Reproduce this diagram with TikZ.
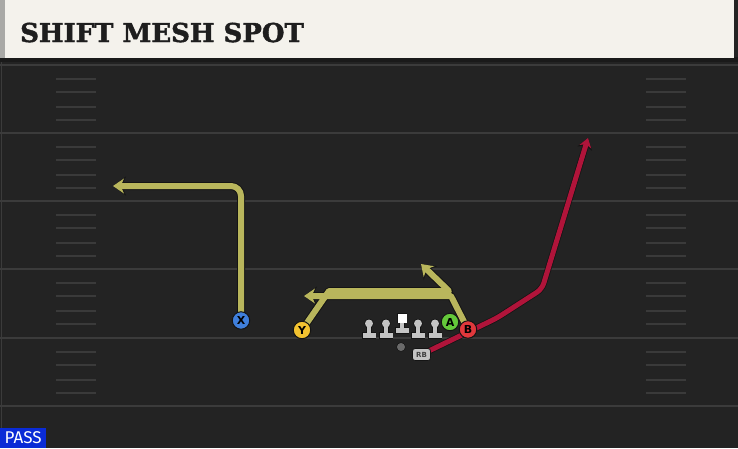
\documentclass[tikz,border=0pt]{standalone}
\usepackage{fontspec}
\setmainfont{DejaVu Sans}
\newfontfamily\titlefont[BoldFeatures={FakeBold=1.6}]{DejaVu Serif}
\newfontfamily\passfont{Fira Sans}
\usetikzlibrary{arrows.meta}
\definecolor{bg}{HTML}{232323}
\definecolor{fieldline}{HTML}{3B3B3B}
\definecolor{hashcol}{HTML}{3A3A3A}
\definecolor{cream}{HTML}{F4F2EC}
\definecolor{stripgrey}{HTML}{A9A9A6}
\definecolor{titledark}{HTML}{1A1A1A}
\definecolor{titletext}{HTML}{1E1E1E}
\definecolor{olive}{HTML}{B9B65C}
\definecolor{outl}{HTML}{141414}
\definecolor{routered}{HTML}{B0143A}
\definecolor{xblue}{HTML}{3F7FDB}
\definecolor{yyellow}{HTML}{F2C230}
\definecolor{agreen}{HTML}{64C83A}
\definecolor{bred}{HTML}{E0383C}
\definecolor{linegrey}{HTML}{C4C4C4}
\definecolor{qbgrey}{HTML}{6A6A6A}
\definecolor{passblue}{HTML}{0A2BD6}
\pgfdeclarelayer{field}
\pgfdeclarelayer{routes}
\pgfsetlayers{field,routes,main}
\tikzset{
  fieldln/.style={draw=fieldline, line width=2},
  hashln/.style={draw=hashcol, line width=1.5},
  player/.style={circle, draw=outl, line width=1, minimum size=17.5, inner sep=0,
    font=\bfseries\fontsize{11}{11}\selectfont, text=black},
  routeback/.style={draw=outl, line width=8, line join=round,
    -{Stealth[length=13pt,width=19pt,inset=4.5pt]}},
  routefront/.style={draw=olive, line width=6, line join=round,
    -{Stealth[length=11pt,width=15pt,inset=3.5pt]}},
  redback/.style={draw=outl, line width=6.5, line join=round,
    -{Stealth[length=11pt,width=15pt,inset=3pt]}},
  redfront/.style={draw=routered, line width=5, line join=round,
    -{Stealth[length=9pt,width=12pt,inset=2.5pt]}},
  rbbox/.style={draw=outl, fill=linegrey, rounded corners=2.5, line width=0.8,
    minimum width=18, minimum height=12, inner sep=0,
    font=\bfseries\fontsize{7}{7}\selectfont, text=black!75},
  lineman/.pic={
    \fill[outl] (-7.3,8.8) rectangle (7.3,15.3);
    \fill[outl] (-2.8,1) rectangle (2.8,10);
    \fill[outl] (0,0) circle (4.8);
    \fill[linegrey] (-6.5,9.5) rectangle (6.5,14.5);
    \fill[linegrey] (-2,1) rectangle (2,10);
    \fill[linegrey] (0,0) circle (4);
  },
  centerman/.pic={
    \fill[outl] (-7.3,9.3) rectangle (7.3,15.8);
    \fill[outl] (-2.8,4) rectangle (2.8,11);
    \fill[outl] (-5.3,-5.3) rectangle (5.3,5.3);
    \fill[linegrey] (-6.5,10) rectangle (6.5,15);
    \fill[linegrey] (-2,4) rectangle (2,11);
    \fill[white] (-4.5,-4.5) rectangle (4.5,4.5);
  }
}
\begin{document}
\begin{tikzpicture}[x=1pt,y=-1pt]
\useasboundingbox (0,0) rectangle (738,448);
\begin{pgfonlayer}{field}
  \fill[bg] (0,0) rectangle (738,448);
  \draw[fieldline, line width=1] (1.5,62) -- (1.5,448);
  \foreach \yy in {65,133,201,269,338,406}
    \draw[fieldln] (0,\yy) -- (738,\yy);
  \foreach \bb in {65,133,201,269,338}
    \foreach \oo in {14,27,42,55} {
      \draw[hashln] (56,\bb+\oo) -- (96,\bb+\oo);
      \draw[hashln] (646,\bb+\oo) -- (686,\bb+\oo);
    }
  \fill[titledark] (0,57) rectangle (738,62);
  \fill[cream] (0,0) rectangle (734,58);
  \fill[stripgrey] (0,0) rectangle (5,58);
\end{pgfonlayer}

\node[anchor=base west, inner sep=0, text=titletext,
  font=\titlefont\bfseries\fontsize{26}{26}\selectfont] (title) at (20,42) {SHIFT MESH SPOT};

% players
\node[player, fill=xblue] (X) at (241,320.5) {X};
\node[player, fill=yyellow] (Y) at (302,330) {Y};
\node[player, fill=agreen] (A) at (450,322) {A};
\node[player, fill=bred] (B) at (468,329.5) {B};
\pic (L1) at (369,323.5) {lineman};
\pic (L2) at (386,323.5) {lineman};
\pic (C) at (402,318) {centerman};
\pic (L4) at (418,323.5) {lineman};
\pic (L5) at (435,323.5) {lineman};
\node[circle, draw=outl, line width=0.6, fill=qbgrey, minimum size=9, inner sep=0] (QB) at (401,347) {};
\node[rbbox] (RB) at (421.5,354.5) {RB};

% route way points
\coordinate (xend) at (113,186);
\coordinate (y1) at (329,291);
\coordinate (y2) at (449,291);
\coordinate (yend) at (421,264);
\coordinate (b1) at (451,296);
\coordinate (bend) at (304,296);
\coordinate (r1) at (497,318);
\coordinate (r2) at (542,289);
\coordinate (rend) at (588,138);

\begin{pgfonlayer}{routes}
  \foreach \st in {routeback,routefront} {
    \draw[\st, rounded corners=10] (X.center) |- (xend);
    \draw[\st] (Y.center) -- (y1) -- (y2) -- (yend);
    \draw[\st] (B.center) -- (b1) -- (bend);
  }
  \foreach \st in {redback,redfront}
    \draw[\st, rounded corners=6] (RB.center) -- (r1) -- (r2) -- (rend);
\end{pgfonlayer}

\node[fill=passblue, text=white, anchor=south west, minimum width=46,
  minimum height=20, inner sep=0, font=\passfont\fontsize{17}{17}\selectfont] (pass) at (0,448) {PASS};
\end{tikzpicture}
\end{document}
